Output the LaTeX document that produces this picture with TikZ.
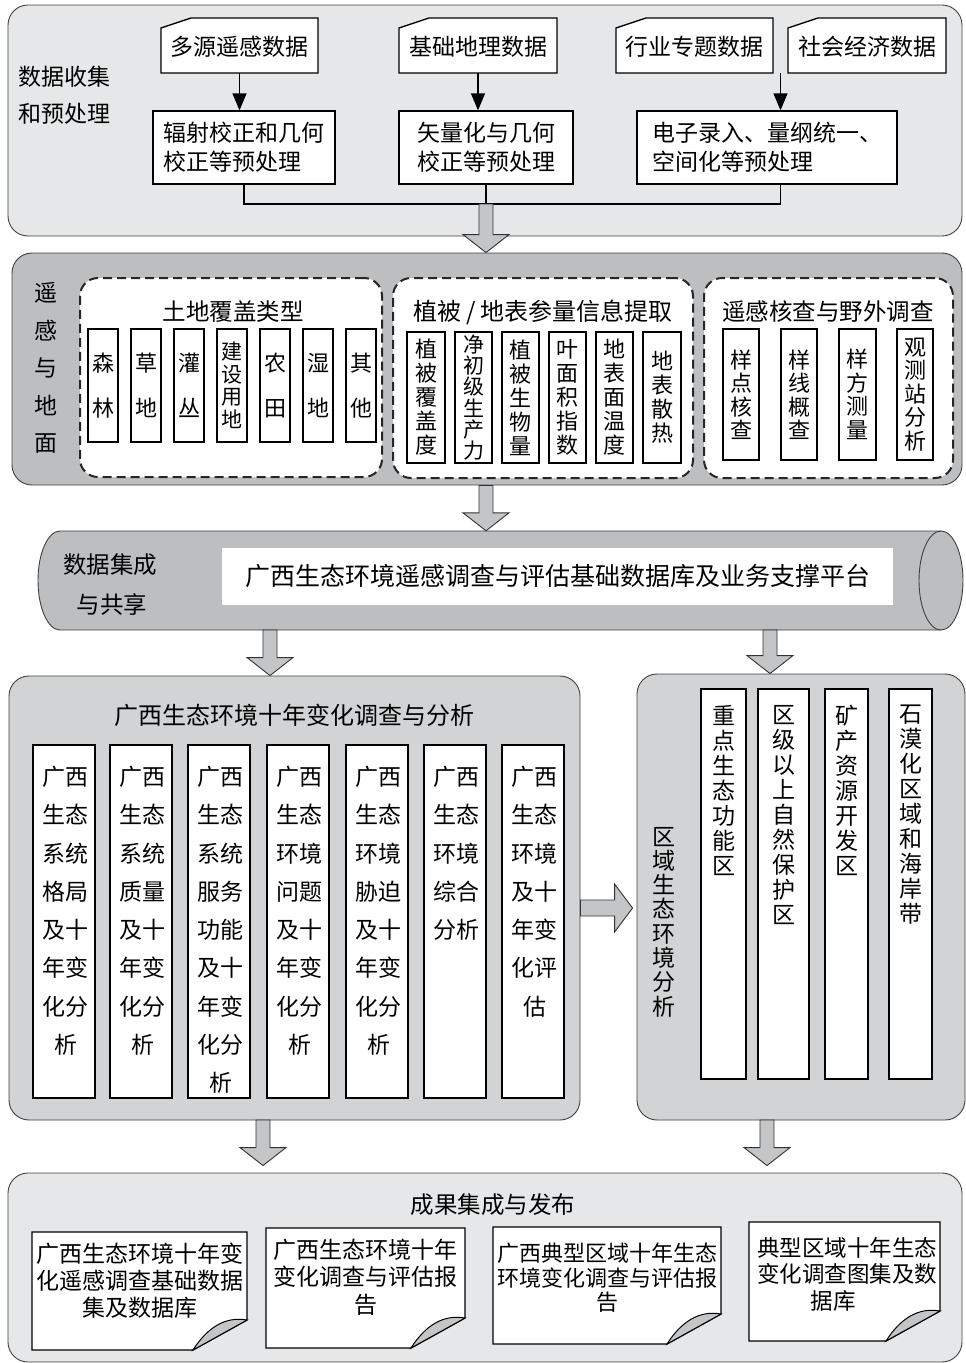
\documentclass[tikz,border=0pt]{standalone}
\usepackage{fontspec}
\setmainfont{Noto Sans CJK SC}
\usetikzlibrary{calc,arrows.meta}
\definecolor{lightpanel}{HTML}{E6E7E8}
\definecolor{darkpanel}{HTML}{BCBEC0}
\definecolor{midpanel}{HTML}{D1D3D4}
\definecolor{arrowgray}{HTML}{C4C5C7}
\newcommand{\myfs}[2]{\fontsize{#1pt}{#2pt}\selectfont}
\newcommand{\rbox}[7][]{\node[#1,minimum width={(#5-#3)*1pt},minimum height={(#6-#4)*1pt}] (#2) at ({(#3+#5)/2},{(#4+#6)/2}) {#7};}
\newcommand{\cardshape}[4]{\draw[box] (#1,#4) -- (#1,{#2+10}) -- ({#1+30},#2) -- (#3,#2) -- (#3,#4) -- cycle;}
\newcommand{\blkdown}[2]{\draw[blk] ($(#1)+(-7,0)$) -- ($(#1)+(7,0)$) -- ($(#2)+(7,-18)$) -- ($(#2)+(23,-18)$) -- (#2) -- ($(#2)+(-23,-18)$) -- ($(#2)+(-7,-18)$) -- cycle;}
\newcommand{\blkright}[2]{\draw[blk] ($(#1)+(0,-8)$) -- ($(#1)+(0,8)$) -- ($(#2)+(-18,8)$) -- ($(#2)+(-18,24)$) -- (#2) -- ($(#2)+(-18,-24)$) -- ($(#2)+(-18,-8)$) -- cycle;}
\newcommand{\docshape}[4]{\draw[box] (#1,#2) -- (#3,#2) -- (#3,{#4-30}) -- ({#3-54},#4) -- (#1,#4) -- cycle;
 \draw[line width=1pt,fill=arrowgray] ({#3-54},#4) -- (#3,{#4-30}) .. controls ({#3-22},{#4-34}) and ({#3-40},{#4-22}) .. ({#3-54},#4) -- cycle;}
\begin{document}
\begin{tikzpicture}[x=1pt,y=-1pt,
 panel/.style={draw=black!75,line width=0.9pt,rounded corners=20pt,inner sep=0pt},
 box/.style={draw=black,line width=1.3pt,fill=white,inner sep=0pt},
 dbox/.style={draw=black!85,line width=2pt,dash pattern=on 9pt off 5pt,rounded corners=18pt,fill=white,inner sep=0pt},
 lbl/.style={inner sep=0pt,align=center},
 flow/.style={line width=1.3pt,-{Triangle[length=17pt,width=14pt]}},
 bus/.style={line width=1.3pt},
 blk/.style={draw=black!80,fill=arrowgray,line width=0.9pt,line join=miter},
]
\useasboundingbox (0,0) rectangle (966,1363);

% ---------- panel 1
\rbox[panel,fill=lightpanel]{P1}{8}{5}{962}{236}{}
\node[lbl,align=left,anchor=west,font=\myfs{23}{37}] (L1) at (18,95) {数据收集\\和预处理};
\cardshape{161}{18}{318}{73}
\rbox[lbl,font=\myfs{23}{27}]{D1}{161}{20}{318}{73}{多源遥感数据}
\cardshape{399}{18}{557}{73}
\rbox[lbl,font=\myfs{23}{27}]{D2}{399}{20}{557}{73}{基础地理数据}
\cardshape{616}{18}{773}{73}
\rbox[lbl,font=\myfs{23}{27}]{D3}{616}{20}{773}{73}{行业专题数据}
\cardshape{788}{18}{946}{73}
\rbox[lbl,font=\myfs{23}{27}]{D4}{788}{20}{946}{73}{社会经济数据}
\rbox[box,align=left,font=\myfs{23}{29}]{B1}{153}{111}{335}{184}{辐射校正和几何\\校正等预处理}
\rbox[box,align=left,font=\myfs{23}{29}]{B2}{399}{111}{573}{184}{矢量化与几何\\校正等预处理}
\rbox[box,align=left,font=\myfs{23}{29}]{B3}{637}{111}{897}{184}{电子录入、量纲统一、\\空间化等预处理}
\draw[flow] (D1.south) -- (D1.south |- B1.north);
\draw[flow] (D2.south) -- (D2.south |- B2.north);
\coordinate (J34) at ($(D3.south east)!0.5!(D4.south west)$);
\draw[flow] (J34) -- (J34 |- B3.north);
\coordinate (Bus) at (0,204);
\coordinate (B1b) at (B1.south);
\coordinate (B3b) at (J34 |- B3.south);
\draw[bus] (B1b) -- (B1b |- Bus) -- (B3b |- Bus) -- (B3b);
\draw[bus] (B2.south) -- (B2.south |- Bus);

% ---------- panel 2
\rbox[panel,fill=darkpanel]{P2}{12}{253}{962}{485}{}
\coordinate (a1s) at (B2.south |- Bus);
\coordinate (a1t) at (a1s |- P2.north);
\blkdown{a1s}{a1t}
\node[lbl,font=\myfs{23}{37.5}] (L2) at (46,368) {遥\\感\\与\\地\\面};
\rbox[dbox]{G1}{80}{278}{382}{477}{}
\node[lbl,font=\myfs{23.5}{28}] (G1t) at (233,312) {土地覆盖类型};
\rbox[box,lbl,font=\myfs{22}{45}]{C1}{88}{329}{118}{442}{森\\林}
\rbox[box,lbl,font=\myfs{22}{45}]{C2}{131}{329}{161}{442}{草\\地}
\rbox[box,lbl,font=\myfs{22}{45}]{C3}{174}{329}{204}{442}{灌\\丛}
\rbox[box,lbl,font=\myfs{21}{22.5}]{C4}{217}{329}{247}{442}{建\\设\\用\\地}
\rbox[box,lbl,font=\myfs{22}{45}]{C5}{260}{329}{290}{442}{农\\田}
\rbox[box,lbl,font=\myfs{22}{45}]{C6}{303}{329}{333}{442}{湿\\地}
\rbox[box,lbl,font=\myfs{22}{45}]{C7}{346}{329}{376}{442}{其\\他}

\rbox[dbox]{G2}{393}{278}{693}{478}{}
\node[lbl,font=\myfs{24}{28}] (G2t) at (543,312) {植被\hspace{5pt}/\hspace{5pt}地表参量信息提取};
\rbox[box,lbl,font=\myfs{22}{24}]{V1}{407}{332}{445}{463}{植\\被\\覆\\盖\\度}
\rbox[box,lbl,font=\myfs{21}{21.3}]{V2}{455}{332}{492}{463}{净\\初\\级\\生\\产\\力}
\rbox[box,lbl,font=\myfs{22}{24}]{V3}{502}{332}{539}{463}{植\\被\\生\\物\\量}
\rbox[box,lbl,font=\myfs{22}{24}]{V4}{549}{332}{586}{463}{叶\\面\\积\\指\\数}
\rbox[box,lbl,font=\myfs{22}{24}]{V5}{596}{332}{633}{463}{地\\表\\面\\温\\度}
\rbox[box,lbl,font=\myfs{22}{24}]{V6}{643}{332}{681}{463}{地\\表\\散\\热}

\rbox[dbox]{G3}{704}{278}{953}{478}{}
\node[lbl,font=\myfs{23.5}{28}] (G3t) at (828,312) {遥感核查与野外调查};
\rbox[box,lbl,font=\myfs{22}{23.5}]{F1}{723}{329}{759}{460}{样\\点\\核\\查}
\rbox[box,lbl,font=\myfs{22}{23.5}]{F2}{781}{329}{817}{460}{样\\线\\概\\查}
\rbox[box,lbl,font=\myfs{22}{23.5}]{F3}{839}{329}{876}{460}{样\\方\\测\\量}
\rbox[box,lbl,font=\myfs{22}{23.5}]{F4}{897}{329}{933}{460}{观\\测\\站\\分\\析}

% ---------- cylinder
\path[fill=darkpanel,draw=black!75,line width=0.9pt] (941,531) -- (60,531) arc(270:90:22 and 49.5) -- (941,630);
\draw[fill=darkpanel,draw=black!75,line width=0.9pt] (941,580.5) ellipse (22 and 49.5);
\rbox[lbl]{CY}{38}{531}{963}{630}{}
\rbox[lbl,fill=white,font=\myfs{25}{28}]{WB}{222}{548}{893}{605}{广西生态环境遥感调查与评估基础数据库及业务支撑平台}
\node[lbl,font=\myfs{23.5}{28}] (CL1) at (110,565) {数据集成};
\node[lbl,font=\myfs{23.5}{28}] (CL2) at (112,605) {与共享};
\coordinate (a2s) at (a1s |- P2.south);
\coordinate (a2t) at (a1s |- CY.north);
\blkdown{a2s}{a2t}

% ---------- panel 3 (left)
\rbox[panel,fill=midpanel]{P3}{9}{676}{580}{1120}{}
\node[lbl,font=\myfs{24}{28}] (P3t) at (294,715) {广西生态环境十年变化调查与分析};
\rbox[box]{M1}{33}{745}{95}{1098}{}
\rbox[box]{M2}{110}{745}{172}{1098}{}
\rbox[box]{M3}{188}{745}{250}{1098}{}
\rbox[box]{M4}{267}{745}{329}{1098}{}
\rbox[box]{M5}{346}{745}{408}{1098}{}
\rbox[box]{M6}{424}{745}{486}{1098}{}
\rbox[box]{M7}{502}{745}{564}{1098}{}
\tikzset{mtxt/.style={lbl,anchor=north,font=\myfs{23}{38.3},yshift=-21.5pt,xshift=1.5pt}}
\node[mtxt] (M1t) at (M1.north) {广西\\生态\\系统\\格局\\及十\\年变\\化分\\析};
\node[mtxt] (M2t) at (M2.north) {广西\\生态\\系统\\质量\\及十\\年变\\化分\\析};
\node[mtxt] (M3t) at (M3.north) {广西\\生态\\系统\\服务\\功能\\及十\\年变\\化分\\析};
\node[mtxt] (M4t) at (M4.north) {广西\\生态\\环境\\问题\\及十\\年变\\化分\\析};
\node[mtxt] (M5t) at (M5.north) {广西\\生态\\环境\\胁迫\\及十\\年变\\化分\\析};
\node[mtxt] (M6t) at (M6.north) {广西\\生态\\环境\\综合\\分析};
\node[mtxt] (M7t) at (M7.north) {广西\\生态\\环境\\及十\\年变\\化评\\估};

% ---------- panel 4 (right)
\rbox[panel,fill=midpanel]{P4}{637}{674}{965}{1120}{}
\node[lbl,font=\myfs{23}{24.3}] (P4t) at (664,922) {区\\域\\生\\态\\环\\境\\分\\析};
\rbox[box]{R1}{701}{689}{746}{1079}{}
\rbox[box]{R2}{758}{689}{809}{1079}{}
\rbox[box]{R3}{825}{689}{868}{1079}{}
\rbox[box]{R4}{889}{689}{932}{1079}{}
\tikzset{rtxt/.style={lbl,anchor=north,font=\myfs{23}{25},yshift=-16.5pt}}
\node[rtxt] (R1t) at (R1.north) {重\\点\\生\\态\\功\\能\\区};
\node[rtxt] (R2t) at (R2.north) {区\\级\\以\\上\\自\\然\\保\\护\\区};
\node[rtxt] (R3t) at (R3.north) {矿\\产\\资\\源\\开\\发\\区};
\node[rtxt] (R4t) at (R4.north) {石\\漠\\化\\区\\域\\和\\海\\岸\\带};

\coordinate (a3s) at (270,630);
\coordinate (a3t) at (a3s |- P3.north);
\blkdown{a3s}{a3t}
\coordinate (a4s) at (770,630);
\coordinate (a4t) at (a4s |- P4.north);
\blkdown{a4s}{a4t}
\coordinate (a7s) at (P3.east |- 0,908);
\coordinate (a7t) at ($(P4.west |- 0,908)+(-4,0)$);
\blkright{a7s}{a7t}

% ---------- panel 5 (bottom)
\rbox[panel,fill=lightpanel]{P5}{8}{1173}{962}{1362}{}
\node[lbl,font=\myfs{23.5}{28}] (P5t) at (493,1205) {成果集成与发布};
\coordinate (a5s) at (263,1120);
\coordinate (a5t) at ($(a5s |- P5.north)+(0,-7)$);
\blkdown{a5s}{a5t}
\coordinate (a6s) at (767,1120);
\coordinate (a6t) at ($(a6s |- P5.north)+(0,-7)$);
\blkdown{a6s}{a6t}

\docshape{32}{1232}{247}{1350}
\node[lbl,anchor=north,font=\myfs{23}{27}] (O1) at (139.5,1243) {广西生态环境十年变\\化遥感调查基础数据\\集及数据库};
\docshape{266}{1228}{465}{1348}
\node[lbl,anchor=north,font=\myfs{23}{27.5}] (O2) at (365.5,1238.5) {广西生态环境十年\\变化调查与评估报\\告};
\docshape{493}{1227}{721}{1344}
\node[lbl,anchor=north,font=\myfs{22}{24.5}] (O3) at (607,1243) {广西典型区域十年生态\\环境变化调查与评估报\\告};
\docshape{749}{1222}{940}{1341}
\node[lbl,anchor=north,font=\myfs{22.5}{26.5}] (O4) at (847,1237) {典型区域十年生态\\变化调查图集及数\\据库\hspace*{28pt}};
\end{tikzpicture}
\end{document}
